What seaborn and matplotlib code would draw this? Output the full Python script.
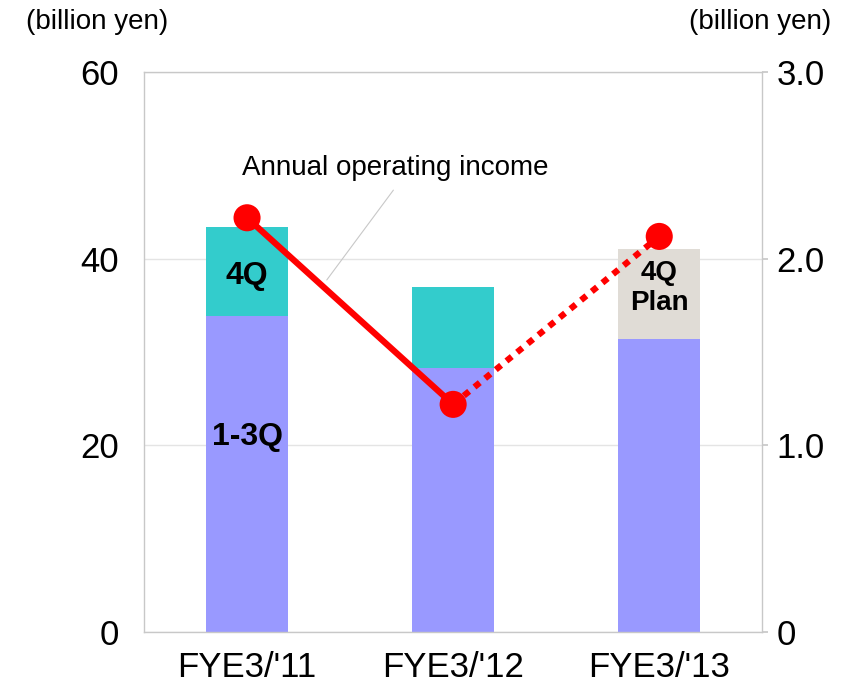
import numpy as np
import pandas as pd
import matplotlib
matplotlib.use("Agg")
import matplotlib.pyplot as plt
import seaborn as sns

years = ["FYE3/'11", "FYE3/'12", "FYE3/'13"]
q1_3 = [33.9, 28.3, 31.4]          # 1-3Q sales (billion yen)
annual = [43.4, 37.0, 41.1]        # full year total (4Q on top)
op_income = [2.22, 1.22, 2.12]     # annual operating income (right axis)
top_colors = ["#33CCCC", "#33CCCC", "#E0DCD6"]

sns.set_theme(style="white")
plt.rcParams['font.family'] = ['Liberation Sans', 'DejaVu Sans']
plt.rcParams['text.color'] = 'black'
plt.rcParams['xtick.color'] = 'black'
plt.rcParams['ytick.color'] = 'black'

df = pd.DataFrame({'year': years, 'q1_3': q1_3, 'annual': annual})

fig = plt.figure(figsize=(8.47, 6.95), dpi=100)
ax = fig.add_axes([0.170, 0.0906, 0.730, 0.8055])

# total bar (4Q / plan part) then 1-3Q bar in front
sns.barplot(data=df, x='year', y='annual', hue='year', palette=top_colors,
            width=0.40, saturation=1, legend=False, linewidth=0, ax=ax)
sns.barplot(data=df, x='year', y='q1_3', color='#9999FF',
            width=0.40, saturation=1, linewidth=0, ax=ax)

ax.set_ylim(0, 60)
ax.set_xlim(-0.5, 2.5)
ax.set_yticks([0, 20, 40, 60])
ax.set_xlabel('')
ax.set_ylabel('')
ax.yaxis.grid(True, color='#E4E4E4', linewidth=1)
ax.set_axisbelow(True)
ax.tick_params(axis='y', length=0, labelsize=25, labelcolor='black', pad=18)
ax.tick_params(axis='x', length=0, labelsize=25, labelcolor='black', pad=14)
for s in ax.spines.values():
    s.set_color('#C8C8C8')
    s.set_linewidth(1)

ax.text(0, 38.2, '4Q', ha='center', va='center', fontsize=23,
        fontweight='bold', color='black')
ax.text(0, 20.9, '1-3Q', ha='center', va='center', fontsize=23,
        fontweight='bold', color='black')
ax.text(2, 36.9, '4Q\nPlan', ha='center', va='center', fontsize=20,
        fontweight='bold', linespacing=1.2, color='black')

# operating income on the right axis
ax2 = ax.twinx()
xs = np.arange(len(years))
sns.lineplot(x=xs[:2], y=op_income[:2], color='#FF0000', linewidth=4.5, ax=ax2)
ax2.plot(xs[1:], op_income[1:], color='#FF0000', linewidth=4.5,
         linestyle=(0, (1.1, 1.1)), dash_capstyle='butt')
sns.scatterplot(x=xs, y=op_income, color='#FF0000', s=380, edgecolor='none',
                ax=ax2, zorder=5)
ax2.set_ylim(0, 3.0)
ax2.set_xlim(-0.5, 2.5)
ax2.set_yticks([0, 1.0, 2.0, 3.0])
ax2.set_yticklabels(['0', '1.0', '2.0', '3.0'])
ax2.tick_params(axis='y', length=4, color='#C8C8C8', labelsize=25,
                labelcolor='black', pad=6)
for s in ax2.spines.values():
    s.set_visible(False)

ax.annotate('', xy=(0.379, 37.5), xytext=(0.718, 47.6),
            arrowprops=dict(arrowstyle='-', color='#C8C8C8', linewidth=0.8))
ax.text(0.718, 49.7, 'Annual operating income', ha='center', va='center',
        fontsize=20, color='black')

fig.text(0.115, 0.968, '(billion yen)', ha='center', va='center', fontsize=20)
fig.text(0.898, 0.968, '(billion yen)', ha='center', va='center', fontsize=20)

fig.savefig('out.png', dpi=100)
